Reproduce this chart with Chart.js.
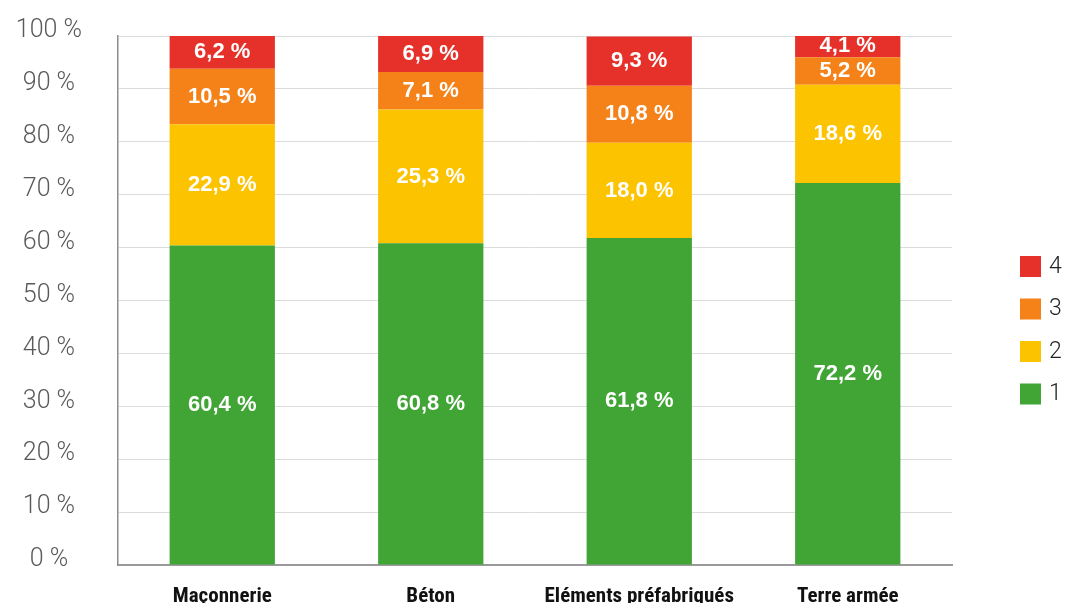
<!DOCTYPE html>
<html lang="fr">
<head>
    <meta charset="UTF-8">
    <title>Répartition par type d'ouvrage</title>
    <script src="https://cdn.jsdelivr.net/npm/chart.js"></script>
    <style>
        html, body { margin: 0; padding: 0; background: #fff; }
        .chart-container { width: 1067px; height: 603px; position: relative; }
    </style>
</head>
<body>
    <div class="chart-container">
        <canvas id="ouvrageChart"></canvas>
    </div>

    <script>
        const categories = ['Maçonnerie', 'Béton', 'Eléments préfabriqués', 'Terre armée'];
        const classe1 = [60.4, 60.8, 61.8, 72.2];
        const classe2 = [22.9, 25.3, 18.0, 18.6];
        const classe3 = [10.5, 7.1, 10.8, 5.2];
        const classe4 = [6.2, 6.9, 9.3, 4.1];
        const seriesNames = ['1', '2', '3', '4'];
        const seriesColors = ['#41a536', '#fcc300', '#f58219', '#e5312a'];

        function pct(v) {
            return v.toFixed(1).replace('.', ',') + ' %';
        }

        // white value labels in the middle of each segment
        const segmentLabels = {
            id: 'segmentLabels',
            afterDatasetsDraw(chart) {
                const ctx = chart.ctx;
                ctx.save();
                ctx.fillStyle = '#ffffff';
                ctx.font = 'bold 22px "Liberation Sans", Arial, sans-serif';
                ctx.textAlign = 'center';
                ctx.textBaseline = 'middle';
                chart.data.datasets.forEach((ds, i) => {
                    chart.getDatasetMeta(i).data.forEach((bar, j) => {
                        const y = (bar.y + bar.base) / 2;
                        ctx.fillText(pct(ds.data[j]), bar.x, y);
                    });
                });
                ctx.restore();
            }
        };

        // legend on the right, top item = last series
        const sideLegend = {
            id: 'sideLegend',
            afterDraw(chart) {
                const ctx = chart.ctx;
                const items = chart.data.datasets.slice().reverse();
                ctx.save();
                ctx.font = '300 23px Roboto, "Liberation Sans", sans-serif';
                ctx.textBaseline = 'middle';
                ctx.textAlign = 'left';
                items.forEach((ds, k) => {
                    const cy = 266 + k * 42.5;
                    ctx.fillStyle = ds.backgroundColor;
                    ctx.fillRect(1020, cy - 10, 21, 21);
                    ctx.fillStyle = '#222';
                    ctx.fillText(ds.label, 1049, cy + 1);
                });
                ctx.restore();
            }
        };

        const datasets = [classe1, classe2, classe3, classe4].map((vals, i) => ({
            label: seriesNames[i],
            data: vals,
            backgroundColor: seriesColors[i],
            borderWidth: 0,
            categoryPercentage: 1,
            barPercentage: 0.505
        }));

        new Chart(document.getElementById('ouvrageChart'), {
            type: 'bar',
            data: { labels: categories, datasets: datasets },
            options: {
                responsive: true,
                maintainAspectRatio: false,
                animation: false,
                layout: { padding: { left: 0, right: 115, top: 36, bottom: 0 } },
                plugins: {
                    legend: { display: false },
                    tooltip: { enabled: false }
                },
                scales: {
                    x: {
                        stacked: true,
                        grid: { display: false },
                        border: { display: true, color: '#9a9a9a', width: 2 },
                        ticks: {
                            padding: 11,
                            maxRotation: 0,
                            minRotation: 0,
                            autoSkip: false,
                            color: '#111',
                            font: { family: '"Roboto Condensed", "DejaVu Sans Condensed", sans-serif', size: 21, weight: 'bold' }
                        },
                        afterFit(scale) { scale.height = 38; }
                    },
                    y: {
                        stacked: true,
                        min: 0,
                        max: 100,
                        grid: { color: '#dcdcdc', lineWidth: 1, drawTicks: false },
                        border: { display: true, color: '#8c8c8c', width: 1.5 },
                        ticks: {
                            stepSize: 10,
                            padding: 36,
                            crossAlign: 'center',
                            labelOffset: -5,
                            color: '#5a5a5a',
                            font: { family: 'Roboto, "Liberation Sans", sans-serif', size: 25, weight: 300 },
                            callback: v => v + ' %'
                        },
                        afterFit(scale) {
                            scale.width = 118;
                            scale.paddingTop = 0;
                            scale.paddingBottom = 0;
                        }
                    }
                }
            },
            plugins: [segmentLabels, sideLegend]
        });
    </script>
</body>
</html>
